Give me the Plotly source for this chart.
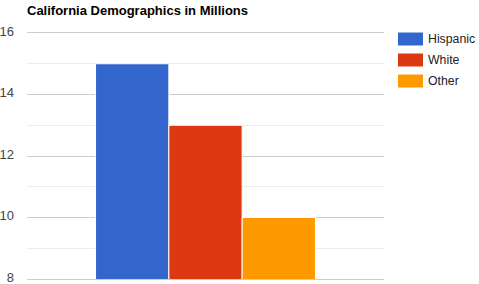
import plotly.graph_objects as go

title = "California Demographics in Millions"
groups = ["California"]
series_names = ["Hispanic", "White", "Other"]
series_values = [15, 13, 10]
series_colors = ["#3366cc", "#dc3912", "#ff9900"]
y_ticks = [8, 10, 12, 14, 16]

fig = go.Figure()
for name, val, col in zip(series_names, series_values, series_colors):
    fig.add_trace(go.Bar(
        x=groups, y=[val], name=name,
        marker=dict(color=col, line=dict(color="white", width=1)),
        showlegend=False,
    ))

# custom legend (larger swatches like Google Charts)
PT, PH, PL, PW = 33, 246, 27, 357
for i, (name, col) in enumerate(zip(series_names, series_colors)):
    yc = 39 + i * 21
    fig.add_shape(type="rect", xref="paper", yref="paper",
                  x0=(398 - PL) / PW, x1=(423 - PL) / PW,
                  y0=1 - (yc - 6.5 - PT) / PH, y1=1 - (yc + 6.5 - PT) / PH,
                  fillcolor=col, line=dict(width=0))
    fig.add_annotation(text=name, xref="paper", yref="paper",
                       x=(428 - PL) / PW, y=1 - (yc - PT) / PH,
                       xanchor="left", yanchor="middle", showarrow=False,
                       borderpad=0, borderwidth=0,
                       font=dict(family="Liberation Sans, Arial", size=12.3, color="#222222"))

fig.update_layout(
    width=479, height=284,
    margin=dict(l=27, r=95, t=33, b=5),
    paper_bgcolor="white", plot_bgcolor="white",
    barmode="group", bargap=0.384, bargroupgap=0,
    title=dict(text="<b>" + title + "</b>", x=27 / 479, xanchor="left",
               y=1 - 10 / 284, yanchor="middle",
               font=dict(family="Liberation Sans, Arial", size=13, color="#000000")),
    font=dict(family="Liberation Sans, Arial", size=13, color="#444444"),
    xaxis=dict(showticklabels=False, showgrid=False, zeroline=False, automargin=False,
               showline=True, mirror=True, linecolor="#cccccc", linewidth=1),
    yaxis=dict(range=[8, 16], tickvals=y_ticks, showgrid=True, gridcolor="#cccccc",
               gridwidth=1, zeroline=False, showline=False, ticks="", automargin=False,
               ticklabelstandoff=12, ticklabeloverflow="allow", ticklabelshift=-2,
               minor=dict(dtick=1, showgrid=True, gridcolor="#ebebeb", gridwidth=1),
               tickfont=dict(size=13, color="#444444")),
)

fig.write_html("out.html")
